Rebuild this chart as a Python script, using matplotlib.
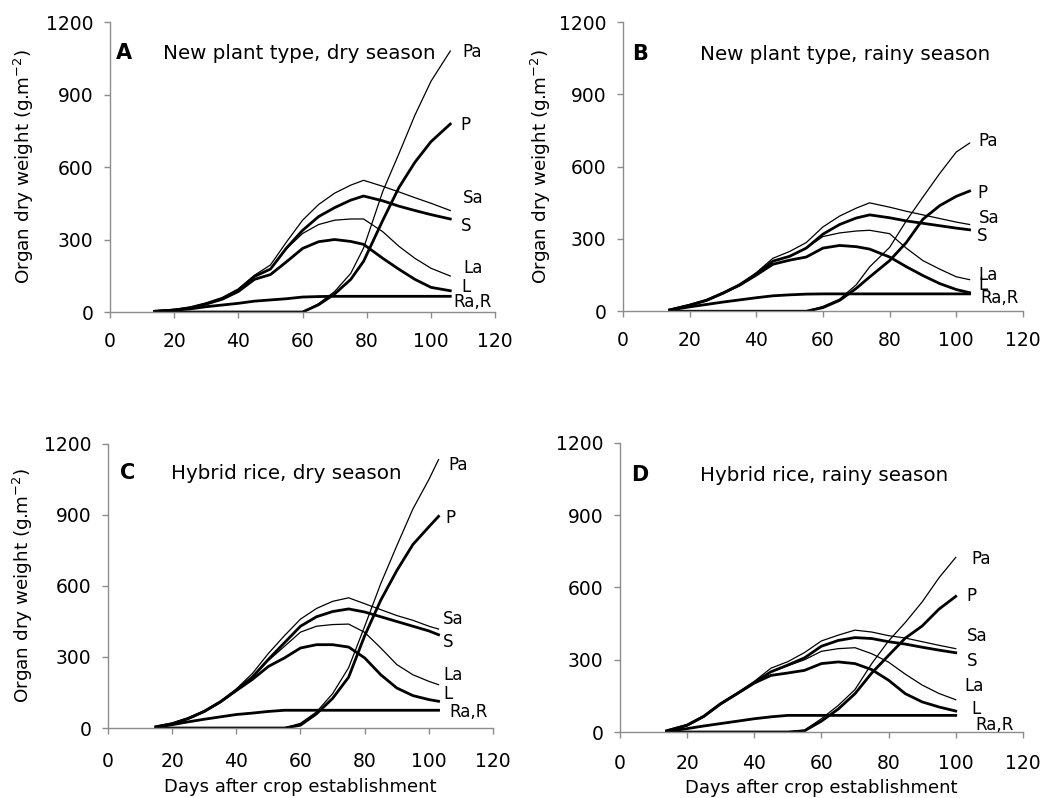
import matplotlib
matplotlib.use('Agg')
import matplotlib.pyplot as plt

# organ dry weight (g/m2) vs days after crop establishment
# thin lines = actual (Pa, Sa, La, Ra), thick = potential/simulated (P, S, L, R)

days_a = [14, 20, 25, 30, 35, 40, 45, 50, 55, 60, 65, 70, 75, 79, 85, 90, 95, 100, 106]
pa_a = [0, 0, 0, 0, 0, 0, 0, 0, 0, 0, 35, 85, 160, 265, 500, 655, 815, 955, 1080]
p_a = [0, 0, 0, 0, 0, 0, 0, 0, 0, 0, 30, 75, 135, 210, 380, 515, 620, 705, 778]
sa_a = [3, 8, 18, 35, 58, 95, 152, 195, 290, 380, 445, 492, 525, 545, 520, 497, 473, 450, 420]
s_a = [3, 8, 18, 35, 57, 92, 147, 178, 265, 338, 395, 432, 463, 480, 460, 438, 420, 403, 385]
la_a = [3, 8, 18, 35, 57, 92, 147, 178, 262, 325, 362, 380, 385, 385, 332, 272, 222, 181, 149]
l_a = [3, 8, 17, 33, 53, 85, 135, 155, 208, 263, 291, 300, 292, 280, 222, 177, 135, 102, 88]
r_a = [2, 8, 13, 22, 29, 36, 45, 50, 55, 62, 64, 65, 65, 65, 65, 65, 65, 65, 65]

days_b = [14, 20, 25, 30, 35, 40, 45, 50, 55, 60, 65, 70, 74, 80, 85, 90, 95, 100, 104]
pa_b = [0, 0, 0, 0, 0, 0, 0, 0, 0, 20, 50, 110, 184, 265, 375, 474, 571, 661, 698]
p_b = [0, 0, 0, 0, 0, 0, 0, 0, 0, 15, 45, 95, 142, 210, 285, 382, 438, 477, 499]
sa_b = [5, 25, 45, 75, 110, 160, 220, 248, 285, 350, 395, 428, 450, 432, 415, 400, 385, 370, 360]
s_b = [5, 25, 45, 75, 110, 155, 208, 228, 262, 320, 360, 387, 400, 388, 375, 365, 355, 345, 338]
la_b = [5, 25, 45, 75, 110, 155, 208, 228, 262, 310, 325, 333, 336, 322, 262, 210, 175, 143, 131]
l_b = [5, 25, 45, 75, 108, 150, 195, 212, 225, 262, 273, 268, 258, 225, 185, 148, 115, 90, 77]
r_b = [5, 18, 28, 38, 47, 56, 64, 68, 71, 72, 72, 72, 72, 72, 72, 72, 72, 72, 72]

days_c = [15, 20, 25, 30, 35, 40, 45, 50, 55, 60, 65, 70, 75, 80, 85, 90, 95, 100, 103]
pa_c = [0, 0, 0, 0, 0, 0, 0, 0, 0, 20, 68, 145, 255, 430, 610, 770, 925, 1050, 1134]
p_c = [0, 0, 0, 0, 0, 0, 0, 0, 0, 12, 60, 125, 215, 390, 540, 665, 775, 850, 894]
sa_c = [5, 18, 40, 70, 110, 165, 230, 315, 390, 460, 505, 535, 550, 525, 500, 475, 455, 430, 418]
s_c = [5, 18, 40, 70, 110, 160, 215, 290, 360, 430, 470, 492, 503, 490, 470, 450, 430, 410, 394]
la_c = [5, 18, 40, 70, 110, 160, 215, 285, 345, 405, 430, 437, 439, 404, 338, 268, 225, 197, 183]
l_c = [5, 18, 40, 70, 110, 158, 205, 260, 296, 338, 352, 352, 342, 296, 225, 169, 137, 120, 113]
r_c = [3, 14, 26, 37, 47, 57, 63, 70, 75, 75, 75, 75, 75, 75, 75, 75, 75, 75, 75]

days_d = [14, 20, 25, 30, 35, 40, 45, 50, 55, 60, 65, 70, 75, 80, 85, 90, 95, 100]
pa_d = [0, 0, 0, 0, 0, 0, 0, 0, 8, 55, 110, 176, 284, 378, 455, 540, 640, 725]
p_d = [0, 0, 0, 0, 0, 0, 0, 0, 5, 45, 95, 159, 245, 318, 390, 440, 510, 563]
sa_d = [5, 28, 65, 118, 162, 210, 265, 292, 330, 378, 402, 423, 415, 400, 390, 375, 360, 346]
s_d = [5, 28, 65, 117, 160, 205, 250, 278, 308, 356, 380, 392, 388, 375, 365, 352, 340, 329]
la_d = [5, 28, 65, 117, 160, 205, 250, 275, 300, 335, 346, 350, 325, 290, 240, 195, 160, 134]
l_d = [5, 28, 65, 117, 160, 203, 235, 245, 256, 284, 291, 284, 259, 215, 159, 125, 104, 87]
r_d = [3, 14, 25, 35, 45, 55, 63, 69, 69, 69, 69, 69, 69, 69, 69, 69, 69, 69]

x_ticks = [0, 20, 40, 60, 80, 100, 120]
y_ticks = [0, 300, 600, 900, 1200]
series_names = ['Pa', 'P', 'Sa', 'S', 'La', 'L', 'Ra,R']

panels = [
    dict(rect=[0.105, 0.609, 0.368, 0.3634], letter='A', title='New plant type, dry season',
         data=(days_a, pa_a, p_a, sa_a, s_a, la_a, l_a, r_a),
         head=(1.9, 16.6, 1047),
         tags=[(109.9, 1054), (109.2, 753), (109.9, 452), (109.2, 336), (110.2, 163), (109.4, 84), (107, 22)],
         ylab=-0.223, xlab=None, xpad=10),
    dict(rect=[0.595, 0.610, 0.382, 0.3622], letter='B', title='New plant type, rainy season',
         data=(days_b, pa_b, p_b, sa_b, s_b, la_b, l_b, r_b),
         head=(2.6, 23, 1042),
         tags=[(106.7, 688), (106.2, 471), (106.7, 368), (106.2, 292), (106.7, 131), (106.7, 87), (107.2, 35)],
         ylab=-0.205, xlab=None, xpad=10),
    dict(rect=[0.103, 0.0877, 0.368, 0.356], letter='C', title='Hybrid rice, dry season',
         data=(days_c, pa_c, p_c, sa_c, s_c, la_c, l_c, r_c),
         head=(3.7, 19.8, 1050),
         tags=[(106, 1089), (105.2, 866), (104.4, 441), (104.2, 342), (104.4, 201), (104.4, 123), (106.5, 45)],
         ylab=-0.221, xlab=-0.208, xpad=13),
    dict(rect=[0.592, 0.0827, 0.385, 0.3622], letter='D', title='Hybrid rice, rainy season',
         data=(days_d, pa_d, p_d, sa_d, s_d, la_d, l_d, r_d),
         head=(3.5, 23.8, 1043),
         tags=[(104.7, 699), (103.2, 544), (103.4, 378), (103.2, 274), (102.7, 170), (104.7, 73), (105.7, 7)],
         ylab=None, xlab=-0.194, xpad=11),
]

fig = plt.figure(figsize=(10.47, 7.98), dpi=100)
axis_grey = '#8c8c8c'
thin = 0.9
thick = 2.0

for pn in panels:
    ax = fig.add_axes(pn['rect'])
    days, pa, p, sa, s, la, l, r = pn['data']
    ax.plot(days, r, color='black', lw=thin)
    ax.plot(days, r, color='black', lw=thick)
    ax.plot(days, la, color='black', lw=thin)
    ax.plot(days, l, color='black', lw=thick)
    ax.plot(days, sa, color='black', lw=thin)
    ax.plot(days, s, color='black', lw=thick)
    ax.plot(days, pa, color='black', lw=thin)
    ax.plot(days, p, color='black', lw=thick)

    ax.set_xlim(0, 120)
    ax.set_ylim(0, 1200)
    ax.set_xticks(x_ticks)
    ax.set_yticks(y_ticks)
    for side in ['top', 'right']:
        ax.spines[side].set_visible(False)
    for side in ['left', 'bottom']:
        ax.spines[side].set_color(axis_grey)
        ax.spines[side].set_linewidth(1.0)
    ax.tick_params(axis='both', colors=axis_grey, labelcolor='black', labelsize=13.5,
                   length=4.5, width=1.0, direction='out')
    ax.tick_params(axis='x', pad=pn['xpad'])
    ax.tick_params(axis='y', pad=7.5)

    lx, tx, ty = pn['head']
    ax.text(lx, ty, pn['letter'], fontsize=15, fontweight='bold', va='baseline', ha='left')
    ax.text(tx, ty, pn['title'], fontsize=14.3, va='baseline', ha='left')
    for name, (x, y) in zip(series_names, pn['tags']):
        ax.text(x, y, name, fontsize=12, va='baseline', ha='left')

    if pn['ylab'] is not None:
        ax.set_ylabel('Organ dry weight (g.m$^{\\mathregular{-2}}$)', fontsize=13.2, va='center')
        ax.yaxis.set_label_coords(pn['ylab'], 0.5)
    if pn['xlab'] is not None:
        ax.set_xlabel('Days after crop establishment', fontsize=13, va='center')
        ax.xaxis.set_label_coords(0.5, pn['xlab'])

fig.savefig('out.png', dpi=100)
